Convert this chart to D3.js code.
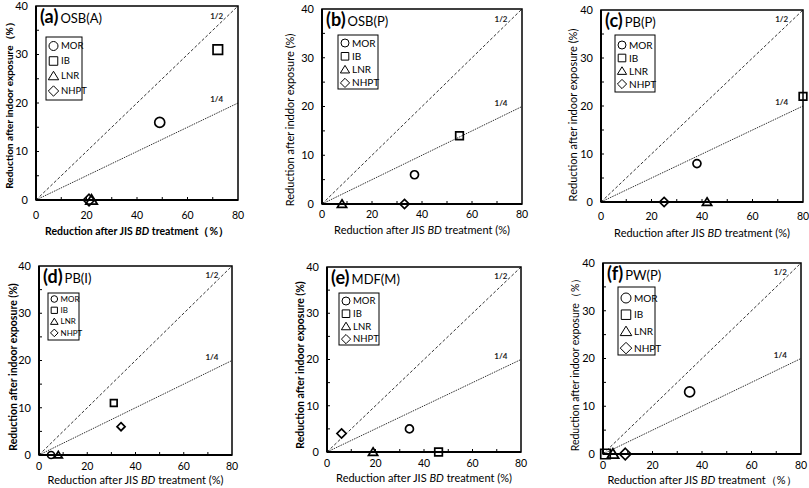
<!DOCTYPE html>
<html><head><meta charset="utf-8">
<script src="https://cdn.jsdelivr.net/npm/d3@7"></script>
<style>body{margin:0;background:#fff}svg{display:block}</style>
</head><body>
<svg id="chart" width="809" height="488"></svg>
<script>
// ---- data ----
const panelLetters = ["(a)", "(b)", "(c)", "(d)", "(e)", "(f)"];
const panelNames = ["OSB(A)", "OSB(P)", "PB(P)", "PB(I)", "MDF(M)", "PW(P)"];
const seriesNames = ["MOR", "IB", "LNR", "NHPT"];
const xMOR  = [49, 37, 38, 5, 34, 35];
const yMOR  = [16, 6, 8, 0, 5, 13];
const xIB   = [72, 55, 80, 31, 46, 1];
const yIB   = [31, 14, 22, 11, 0, 0];
const xLNR  = [22, 8, 42, 8, 19, 4];
const yLNR  = [0, 0, 0, 0, 0, 0];
const xNHPT = [21, 33, 25, 34, 6, 9];
const yNHPT = [0, 0, 0, 6, 4, 0];
const xTickLabels = [0, 20, 40, 60, 80];
const yTickLabels = [0, 10, 20, 30, 40];
const refLabels = ["1/2", "1/4"];
const refRatios = [0.5, 0.25];
const yTitles = [
  "Reduction after indoor exposure（%）",
  "Reduction after inddor exposure (%)",
  "Reduction after indoor exposure (%)",
  "Reduction after indoor exposure (%)",
  "Reduction after indoor exposure (%)",
  "Reduction after indoor exposure（%）"
];
const xTitleEnds = ["（%）", " (%)", " (%)", " (%)", " (%)", "（%）"];

// ---- layout ----
const layout = [
  {x0:36, x1:238, y0:6, y1:200, ytx:9, ycy:103, xty:231, tlo:15, yBold:true, xBold:true, ytSize:10, xtSize:10.5,
   lg:{x:46, y:37, w:36, h:63, y1:46, step:15, fs:9.5, s:4.5}, ms:5},
  {x0:322, x1:522, y0:9, y1:204, ytx:290, ycy:120, xty:230, tlo:10, yBold:false, xBold:false, ytSize:11, xtSize:11,
   lg:{x:338, y:35, w:40, h:54, y1:43, step:13.3, fs:10, s:4}, ms:4},
  {x0:601, x1:803, y0:10, y1:202, ytx:573, ycy:115, xty:233, tlo:14, yBold:false, xBold:false, ytSize:11, xtSize:11,
   lg:{x:615, y:35, w:40, h:57, y1:45, step:13, fs:10, s:4}, ms:4},
  {x0:39, x1:232, y0:266, y1:455, ytx:13, ycy:367, xty:480, tlo:11, yBold:true, xBold:false, ytSize:10.5, xtSize:11,
   lg:{x:48, y:293, w:31, h:47, y1:299, step:11.3, fs:8, s:3.3}, ms:3.5},
  {x0:327, x1:521, y0:267, y1:452, ytx:300, ycy:365, xty:478, tlo:11, yBold:true, xBold:false, ytSize:10.5, xtSize:11,
   lg:{x:339, y:293, w:40, h:52, y1:301, step:12.7, fs:9.5, s:4}, ms:4},
  {x0:603, x1:801, y0:263, y1:454, ytx:575, ycy:362, xty:480, tlo:11, yBold:false, xBold:false, ytSize:10.5, xtSize:11,
   lg:{x:618, y:287, w:37, h:68, y1:298, step:16.7, fs:10, s:5}, ms:5}
];

const FONT = "Lato, 'Open Sans', 'Liberation Sans', sans-serif";
const svg = d3.select("#chart");

function symbolPath(name, s) {
  if (name === "MOR") {
    return `M${-s},0A${s},${s} 0 1,0 ${s},0A${s},${s} 0 1,0 ${-s},0Z`;
  }
  if (name === "IB") {
    const h = s * 0.95;
    return `M${-h},${-h}H${h}V${h}H${-h}Z`;
  }
  if (name === "LNR") {
    const h = s * 1.05;
    return `M0,${-h}L${h * 1.1},${h * 0.8}H${-h * 1.1}Z`;
  }
  const h = s * 1.15;
  return `M0,${-h}L${h},0L0,${h}L${-h},0Z`;
}

const seriesX = [xMOR, xIB, xLNR, xNHPT];
const seriesY = [yMOR, yIB, yLNR, yNHPT];

layout.forEach((L, i) => {
  const g = svg.append("g");
  const x = d3.scaleLinear().domain([0, 80]).range([L.x0, L.x1]);
  const y = d3.scaleLinear().domain([0, 40]).range([L.y1, L.y0]);

  // reference lines
  refRatios.forEach((r, k) => {
    g.append("line")
      .attr("x1", x(0)).attr("y1", y(0))
      .attr("x2", x(80)).attr("y2", y(80 * r))
      .attr("stroke", "#333").attr("stroke-width", 1)
      .attr("stroke-dasharray", k === 0 ? "3,2" : "1.5,1");
    g.append("text")
      .attr("x", x(69)).attr("y", y(80 * r * 0.86 + 3))
      .attr("font-family", FONT).attr("font-size", 8).attr("font-weight", "bold")
      .attr("fill", "#222")
      .text(refLabels[k]);
  });

  // ticks (inside)
  const xt = d3.range(10, 80, 10);
  g.selectAll(null).data(xt).join("line")
    .attr("x1", d => x(d)).attr("x2", d => x(d))
    .attr("y1", L.y1).attr("y2", L.y1 - 3)
    .attr("stroke", "#000").attr("stroke-width", 1);
  const yt = d3.range(5, 40, 5);
  g.selectAll(null).data(yt).join("line")
    .attr("x1", L.x0).attr("x2", L.x0 + 3)
    .attr("y1", d => y(d)).attr("y2", d => y(d))
    .attr("stroke", "#000").attr("stroke-width", 1);

  // frame
  g.append("rect")
    .attr("x", L.x0).attr("y", L.y0)
    .attr("width", L.x1 - L.x0).attr("height", L.y1 - L.y0)
    .attr("fill", "none").attr("stroke", "#000").attr("stroke-width", 1.5);
  g.append("line")
    .attr("x1", L.x0).attr("x2", L.x1).attr("y1", L.y1).attr("y2", L.y1)
    .attr("stroke", "#000").attr("stroke-width", 2);
  g.append("line")
    .attr("x1", L.x0).attr("x2", L.x0).attr("y1", L.y0).attr("y2", L.y1)
    .attr("stroke", "#000").attr("stroke-width", 2);

  // tick labels
  g.selectAll(null).data(xTickLabels).join("text")
    .attr("x", d => x(d)).attr("y", L.y1 + L.tlo).attr("dy", "0.35em")
    .attr("text-anchor", "middle")
    .attr("font-family", FONT).attr("font-size", 10.5).attr("fill", "#000")
    .text(d => d);
  g.selectAll(null).data(yTickLabels).join("text")
    .attr("x", L.x0 - 8).attr("y", d => y(d)).attr("dy", "0.35em")
    .attr("text-anchor", "end")
    .attr("font-family", FONT).attr("font-size", 11).attr("fill", "#000")
    .text(d => d);

  // axis titles
  const xTitle = g.append("text")
    .attr("x", (L.x0 + L.x1) / 2).attr("y", L.xty).attr("dy", "0.35em")
    .attr("text-anchor", "middle")
    .attr("font-family", FONT).attr("font-size", L.xtSize)
    .attr("font-weight", L.xBold ? "bold" : "normal").attr("fill", "#000");
  xTitle.append("tspan").text("Reduction after JIS ");
  xTitle.append("tspan").attr("font-style", "italic").text("BD");
  xTitle.append("tspan").text(" treatment" + xTitleEnds[i]);

  g.append("text")
    .attr("transform", `translate(${L.ytx},${L.ycy}) rotate(-90)`)
    .attr("text-anchor", "middle").attr("dy", "0.35em")
    .attr("font-family", FONT).attr("font-size", L.ytSize)
    .attr("font-weight", L.yBold ? "bold" : "normal").attr("fill", "#000")
    .text(yTitles[i]);

  // panel title
  const t = g.append("text")
    .attr("x", L.x0 + 4).attr("y", L.y0 + 17)
    .attr("font-family", FONT).attr("fill", "#000");
  t.append("tspan").attr("font-size", 18).attr("font-weight", "bold").text(panelLetters[i]);
  t.append("tspan").attr("font-size", 13).attr("dx", 2).text(panelNames[i]);

  // legend
  const lg = L.lg;
  g.append("rect").attr("x", lg.x).attr("y", lg.y)
    .attr("width", lg.w).attr("height", lg.h)
    .attr("fill", "#fff").attr("stroke", "#000").attr("stroke-width", 1);
  seriesNames.forEach((name, k) => {
    const cy = lg.y1 + k * lg.step;
    g.append("path")
      .attr("d", symbolPath(name, lg.s))
      .attr("transform", `translate(${lg.x + 3 + lg.s},${cy})`)
      .attr("fill", "none").attr("stroke", "#000").attr("stroke-width", 1);
    g.append("text")
      .attr("x", lg.x + 6 + lg.s * 2).attr("y", cy).attr("dy", "0.35em")
      .attr("font-family", FONT).attr("font-size", lg.fs).attr("fill", "#000")
      .text(name);
  });

  // data points
  seriesNames.forEach((name, k) => {
    g.append("path")
      .attr("d", symbolPath(name, L.ms))
      .attr("transform", `translate(${x(seriesX[k][i])},${y(seriesY[k][i])})`)
      .attr("fill", "none").attr("stroke", "#000").attr("stroke-width", 1.7);
  });
});
</script>
</body></html>
